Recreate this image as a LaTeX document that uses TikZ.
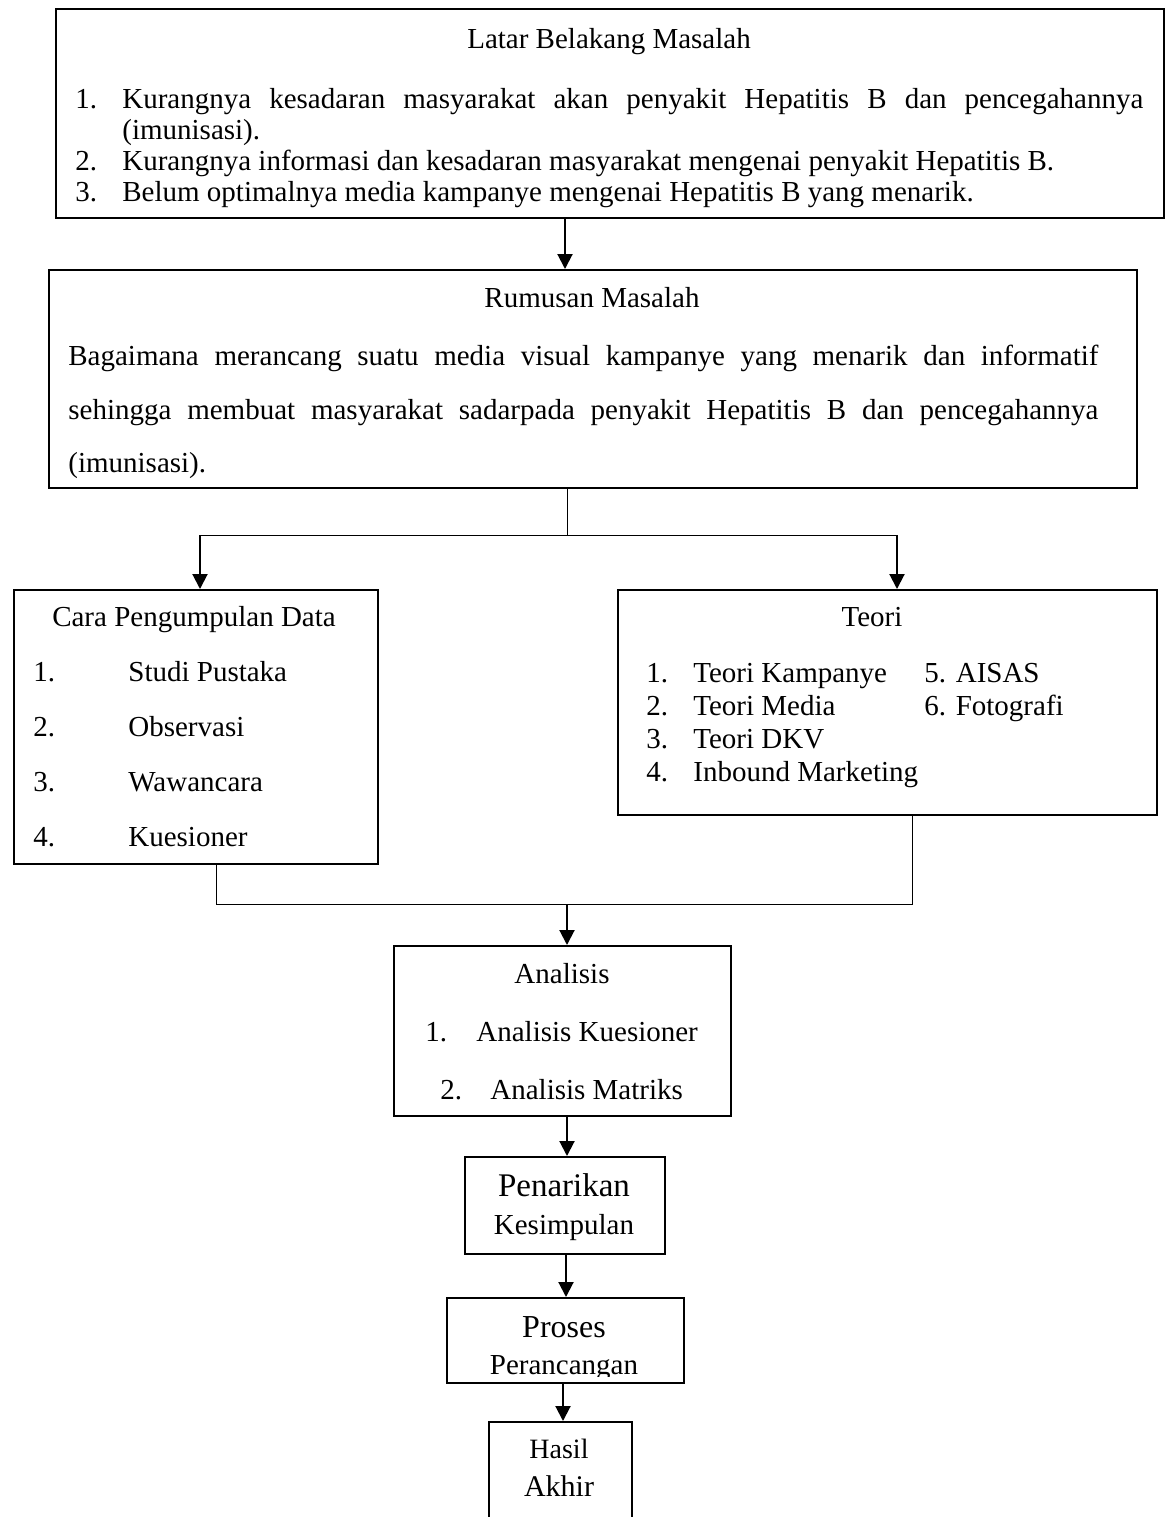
\documentclass[tikz,border=0pt]{standalone}
\usepackage{fontspec}
\setmainfont{Liberation Serif}
\usetikzlibrary{arrows.meta}
\newcommand\fnorm{\fontsize{14.5}{17}\selectfont}
\newcommand\fbig[1]{\fontsize{#1}{#1}\selectfont}
\newcommand\bx[5]{\node[boxst, minimum width={(#4-#2)*0.5pt}, minimum height={(#5-#3)*0.5pt}, anchor=north west] (#1) at (#2,#3) {};}
\begin{document}
\begin{tikzpicture}[x=0.5pt,y=-0.5pt,
  boxst/.style={draw, line width=1pt, inner sep=0pt, fill=none},
  txt/.style={inner sep=0pt, font=\fnorm, anchor=base west},
  ctxt/.style={inner sep=0pt, font=\fnorm, anchor=base},
  arr/.style={line width=1pt, -{Triangle[length=7.5pt,width=7.5pt]}},
  thin/.style={line width=0.5pt}]
\useasboundingbox (0,0) rectangle (1170,1517);
\clip (0,0) rectangle (1170,1517);
\fill[white] (0,0) rectangle (1170,1517);

% --- Latar Belakang Masalah
\bx{lbm}{55}{8}{1163}{217}
\node[ctxt] (lbmT) at (609,48) {Latar Belakang Masalah};
\node[txt] (lbm1n) at (75,108) {1.};
\node[txt] (lbm1) at (122,108) {\makebox[510.5pt][s]{Kurangnya kesadaran masyarakat akan penyakit Hepatitis B dan pencegahannya}};
\node[txt] (lbm1b) at (122,139) {(imunisasi).};
\node[txt] (lbm2n) at (75,170) {2.};
\node[txt] (lbm2) at (122,170) {Kurangnya informasi dan kesadaran masyarakat mengenai penyakit Hepatitis B.};
\node[txt] (lbm3n) at (75,201) {3.};
\node[txt] (lbm3) at (122,201) {Belum optimalnya media kampanye mengenai Hepatitis B yang menarik.};

% --- Rumusan Masalah
\bx{rm}{48}{269}{1136}{487}
\node[ctxt] (rmT) at (592,307) {Rumusan Masalah};
\node[txt] (rm1) at (68,365) {\makebox[515pt][s]{Bagaimana merancang suatu media visual kampanye yang menarik dan informatif}};
\node[txt] (rm2) at (68,419) {\makebox[515pt][s]{sehingga membuat masyarakat sadarpada penyakit Hepatitis B dan pencegahannya}};
\node[txt] (rm3) at (68,472) {(imunisasi).};

% --- Cara Pengumpulan Data
\bx{cpd}{13}{589}{377}{863}
\node[ctxt] (cpdT) at (194,626) {Cara Pengumpulan Data};
\node[txt] (c1n) at (33,681) {1.};
\node[txt] (c1) at (128,681) {Studi Pustaka};
\node[txt] (c2n) at (33,736) {2.};
\node[txt] (c2) at (128,736) {Observasi};
\node[txt] (c3n) at (33,791) {3.};
\node[txt] (c3) at (128,791) {Wawancara};
\node[txt] (c4n) at (33,846) {4.};
\node[txt] (c4) at (128,846) {Kuesioner};

% --- Teori
\bx{te}{617}{589}{1156}{814}
\node[ctxt] (teT) at (872,626) {Teori};
\node[txt] (t1n) at (646,682) {1.};
\node[txt] (t1) at (693,682) {Teori Kampanye};
\node[txt] (t2n) at (646,715) {2.};
\node[txt] (t2) at (693,715) {Teori Media};
\node[txt] (t3n) at (646,748) {3.};
\node[txt] (t3) at (693,748) {Teori DKV};
\node[txt] (t4n) at (646,781) {4.};
\node[txt] (t4) at (693,781) {Inbound Marketing};
\node[txt] (t5) at (924,682) {5. AISAS};
\node[txt] (t6) at (924,715) {6. Fotografi};

% --- Analisis
\bx{an}{393}{945}{730}{1115}
\node[ctxt] (anT) at (562,983) {Analisis};
\node[txt] (a1n) at (425,1041) {1.};
\node[txt] (a1) at (476,1041) {Analisis Kuesioner};
\node[txt] (a2n) at (440,1099) {2.};
\node[txt] (a2) at (490,1099) {Analisis Matriks};

% --- Penarikan Kesimpulan
\bx{pk}{464}{1156}{664}{1253}
\node[ctxt, font=\fbig{16.5}] (pk1) at (564,1196) {Penarikan};
\node[ctxt] (pk2) at (564,1234) {Kesimpulan};

% --- Proses Perancangan
\bx{pp}{446}{1297}{683}{1382}
\node[ctxt, font=\fbig{16}] (pp1) at (564,1337) {Proses};
\begin{scope}
\clip (446,1297) rectangle (683,1376);
\node[ctxt] (pp2) at (564,1374) {Perancangan};
\end{scope}

% --- Hasil Akhir
\bx{ha}{488}{1421}{631}{1545}
\node[ctxt, font=\fbig{14}] (ha1) at (559,1458) {Hasil};
\node[ctxt, font=\fbig{15}] (ha2) at (559,1496) {Akhir};

% --- connectors
\coordinate (b0) at (567,535);
\coordinate (bl) at (200,535);
\coordinate (br) at (897,535);
\coordinate (m0) at (567,904);
\coordinate (ml) at (216,904);
\coordinate (mr) at (912,904);

\draw[arr] (lbm.south -| 565,0) -- (rm.north -| 565,0);
\draw[thin] (rm.south -| b0) -- (b0);
\draw[thin] (bl) -- (br);
\draw[arr] (bl) -- (cpd.north -| bl);
\draw[arr] (br) -- (te.north -| br);
\draw[thin] (cpd.south -| ml) -- (ml) -- (mr) -- (te.south -| mr);
\draw[arr] (m0) -- (an.north -| m0);
\draw[arr] (an.south -| 567,0) -- (pk.north -| 567,0);
\draw[arr] (pk.south -| 566,0) -- (pp.north -| 566,0);
\draw[arr] (pp.south -| 563,0) -- (ha.north -| 563,0);
\end{tikzpicture}
\end{document}
